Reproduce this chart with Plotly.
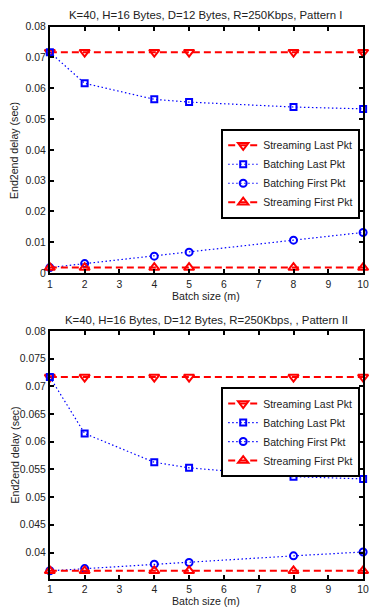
import plotly.graph_objects as go

batch = [1, 2, 4, 5, 8, 10]

# Pattern I
p1_stream_last = [0.0717, 0.0717, 0.0717, 0.0717, 0.0717, 0.0717]
p1_batch_last = [0.0717, 0.0616, 0.0564, 0.0555, 0.0539, 0.0533]
p1_batch_first = [0.0018, 0.0031, 0.0055, 0.0068, 0.0107, 0.0132]
p1_stream_first = [0.0018, 0.0018, 0.0018, 0.0018, 0.0018, 0.0018]

# Pattern II
p2_stream_last = [0.0717, 0.0717, 0.0717, 0.0717, 0.0717, 0.0717]
p2_batch_last = [0.0717, 0.0615, 0.0563, 0.0553, 0.0537, 0.0533]
p2_batch_first = [0.0367, 0.0371, 0.0379, 0.0382, 0.0394, 0.0401]
p2_stream_first = [0.0367, 0.0367, 0.0367, 0.0367, 0.0367, 0.0367]

names = ["Streaming Last Pkt", "Batching Last Pkt", "Batching First Pkt", "Streaming First Pkt"]
titles = ["K=40, H=16 Bytes, D=12 Bytes, R=250Kbps, Pattern I",
          "K=40, H=16 Bytes, D=12 Bytes, R=250Kbps, , Pattern II"]
x_ticks = list(range(1, 11))
y1_ticks = [0, 0.01, 0.02, 0.03, 0.04, 0.05, 0.06, 0.07, 0.08]
y1_text = ["0", "0.01", "0.02", "0.03", "0.04", "0.05", "0.06", "0.07", "0.08"]
y2_ticks = [0.04, 0.045, 0.05, 0.055, 0.06, 0.065, 0.07, 0.075, 0.08]
y2_text = ["0.04", "0.045", "0.05", "0.055", "0.06", "0.065", "0.07", "0.075", "0.08"]

W, H = 374, 615
FONT = "Liberation Sans, Arial, sans-serif"
RED = "#ff0000"
BLUE = "#0000ff"
TXT = "#222222"

styles = [
    dict(line=dict(color=RED, width=2, dash="7px,4px"),
         marker=dict(symbol="triangle-down-open", size=9, color=RED, line=dict(width=2, color=RED))),
    dict(line=dict(color=BLUE, width=1.2, dash="1.5px,2.5px"),
         marker=dict(symbol="square-open", size=6, color=BLUE, line=dict(width=2, color=BLUE))),
    dict(line=dict(color=BLUE, width=1.2, dash="1.5px,2.5px"),
         marker=dict(symbol="circle-open", size=7, color=BLUE, line=dict(width=2, color=BLUE))),
    dict(line=dict(color=RED, width=2, dash="7px,4px"),
         marker=dict(symbol="triangle-up-open", size=9, color=RED, line=dict(width=2, color=RED))),
]

fig = go.Figure()
series = [
    ([p1_stream_last, p1_batch_last, p1_batch_first, p1_stream_first], "x", "y", "legend"),
    ([p2_stream_last, p2_batch_last, p2_batch_first, p2_stream_first], "x2", "y2", "legend2"),
]
for data, xa, ya, lg in series:
    for nm, vals, st in zip(names, data, styles):
        fig.add_trace(go.Scatter(x=batch, y=vals, name=nm, mode="lines+markers",
                                 xaxis=xa, yaxis=ya, legend=lg, cliponaxis=False, **st))

xdom = [48 / W, 369 / W]
top_dom = [1 - 273 / H, 1 - 22 / H]
bot_dom = [1 - 584 / H, 1 - 332 / H]

axis_common = dict(showline=True, linewidth=2, linecolor="black", mirror="ticks",
                   ticks="inside", ticklen=4, tickwidth=1.5, tickcolor="black",
                   showgrid=False, zeroline=False, ticklabeloverflow="allow",
                   tickfont=dict(family=FONT, size=10.4, color=TXT))

legend_common = dict(xanchor="right", yanchor="top", bgcolor="white",
                     bordercolor="black", borderwidth=2, tracegroupgap=0,
                     font=dict(family=FONT, size=10.5, color=TXT))

fig.update_layout(
    width=W, height=H,
    margin=dict(l=0, r=0, t=0, b=0),
    paper_bgcolor="white", plot_bgcolor="white",
    font=dict(family=FONT, size=10.5, color=TXT),
    xaxis=dict(domain=xdom, anchor="y", range=[1, 10], tickvals=x_ticks, **axis_common),
    yaxis=dict(domain=top_dom, anchor="x", range=[0, 0.08], tickvals=y1_ticks, ticktext=y1_text, **axis_common),
    xaxis2=dict(domain=xdom, anchor="y2", range=[1, 10], tickvals=x_ticks, **axis_common),
    yaxis2=dict(domain=bot_dom, anchor="x2", range=[0.0353, 0.08], tickvals=y2_ticks, ticktext=y2_text, **axis_common),
    legend=dict(x=366 / W, y=1 - 126 / H, **legend_common),
    legend2=dict(x=366 / W, y=1 - 389 / H, **legend_common),
    showlegend=True,
)

cx = (xdom[0] + xdom[1]) / 2
ann = []
for t, yp in zip(titles, [1 - 10 / H, 1 - 320.5 / H]):
    ann.append(dict(text=t, x=cx, y=yp, xref="paper", yref="paper", showarrow=False,
                    xanchor="center", yanchor="middle", font=dict(family=FONT, size=11.4, color=TXT)))
for yp in [1 - 296 / H, 1 - 606.5 / H]:
    ann.append(dict(text="Batch size (m)", x=cx, y=yp, xref="paper", yref="paper", showarrow=False,
                    xanchor="center", yanchor="middle", font=dict(family=FONT, size=10.6, color=TXT)))
for yp in [1 - 148 / H, 1 - 458 / H]:
    ann.append(dict(text="End2end delay (sec)", x=12 / W, y=yp, xref="paper", yref="paper", showarrow=False,
                    textangle=-90, xanchor="center", yanchor="middle", font=dict(family=FONT, size=10.6, color=TXT)))
fig.update_layout(annotations=ann)

fig.write_html("out.html")
